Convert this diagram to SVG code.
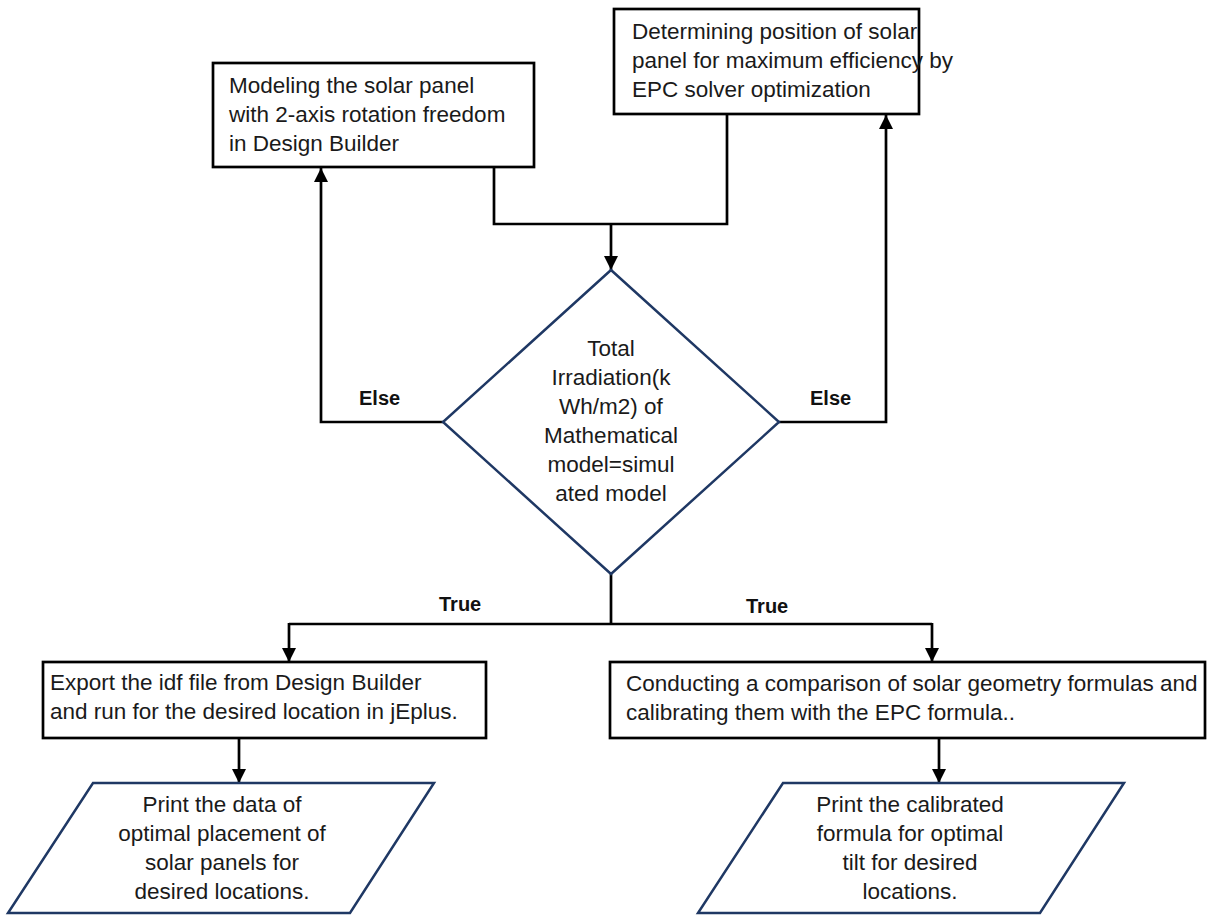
<svg xmlns="http://www.w3.org/2000/svg" width="1207" height="916" viewBox="0 0 1207 916">
<style>
.box{fill:#fff;stroke:#000;stroke-width:2.7}
.shape{fill:#fff;stroke:#1f3864;stroke-width:2.5}
.t{font-family:"Liberation Sans",Arial,sans-serif;font-size:22.5px;fill:#1a1a1a}
.c{text-anchor:middle}
.lbl{font-family:"Liberation Sans",Arial,sans-serif;font-size:20px;font-weight:bold;fill:#111}
.ln{fill:none;stroke:#000;stroke-width:2.7}
</style>
<defs>
<marker id="ah" markerUnits="userSpaceOnUse" markerWidth="14" markerHeight="14" viewBox="0 0 12 12" refX="12" refY="6" orient="auto">
<path d="M0,0 L12,6 L0,12 z" fill="#000"/>
</marker>
</defs>
<rect width="1207" height="916" fill="#fff"/>
<g id="connectors">
<polyline class="ln" points="494,167 494,224 727,224 727,114"/>
<line class="ln" x1="611" y1="224" x2="611" y2="270" marker-end="url(#ah)"/>
<polyline class="ln" points="443,422 321,422 321,168" marker-end="url(#ah)"/>
<polyline class="ln" points="779,422 886,422 886,115" marker-end="url(#ah)"/>
<line class="ln" x1="611" y1="574" x2="611" y2="624"/>
<polyline class="ln" points="289,624 932,624"/>
<line class="ln" x1="289" y1="623" x2="289" y2="662" marker-end="url(#ah)"/>
<line class="ln" x1="932" y1="623" x2="932" y2="662" marker-end="url(#ah)"/>
<line class="ln" x1="239" y1="738" x2="239" y2="783" marker-end="url(#ah)"/>
<line class="ln" x1="939" y1="738" x2="939" y2="783" marker-end="url(#ah)"/>
<text class="lbl" x="359" y="405">Else</text>
<text class="lbl" x="810" y="405">Else</text>
<text class="lbl" x="439" y="611">True</text>
<text class="lbl" x="746" y="613">True</text>
</g>
<g id="model">
<rect class="box" x="213" y="63" width="321" height="104"/>
<text class="t" x="229" y="93">Modeling the solar panel</text>
<text class="t" x="229" y="122">with 2-axis rotation freedom</text>
<text class="t" x="229" y="150.5">in Design Builder</text>
</g>
<g id="determine">
<rect class="box" x="614" y="9" width="305" height="105"/>
<text class="t" x="632" y="38.5">Determining position of solar</text>
<text class="t" x="632" y="67.5">panel for maximum efficiency by</text>
<text class="t" x="632" y="96.5">EPC solver optimization</text>
</g>
<g id="decision">
<polygon class="shape" points="611,270 779,422 611,574 443,422"/>
<text class="t c" x="611" y="356">Total</text>
<text class="t c" x="611" y="385">Irradiation(k</text>
<text class="t c" x="611" y="414">Wh/m2) of</text>
<text class="t c" x="611" y="443">Mathematical</text>
<text class="t c" x="611" y="472">model=simul</text>
<text class="t c" x="611" y="501">ated model</text>
</g>
<g id="export">
<rect class="box" x="43" y="662" width="443" height="76"/>
<text class="t" x="50" y="690">Export the idf file from Design Builder</text>
<text class="t" x="50" y="718.5">and run for the desired location in jEplus.</text>
</g>
<g id="compare">
<rect class="box" x="610" y="662" width="595" height="76"/>
<text class="t" x="626" y="691">Conducting a comparison of solar geometry formulas and</text>
<text class="t" x="626" y="719.5">calibrating them with the EPC formula..</text>
</g>
<g id="print-data">
<polygon class="shape" points="93,783 434,783 350,913 8,913"/>
<text class="t c" x="222" y="811.5">Print the data of</text>
<text class="t c" x="222" y="840.5">optimal placement of</text>
<text class="t c" x="222" y="869.5">solar panels for</text>
<text class="t c" x="222" y="898.5">desired locations.</text>
</g>
<g id="print-formula">
<polygon class="shape" points="783,783 1124,783 1040,913 698,913"/>
<text class="t c" x="910" y="811.5">Print the calibrated</text>
<text class="t c" x="910" y="840.5">formula for optimal</text>
<text class="t c" x="910" y="869.5">tilt for desired</text>
<text class="t c" x="910" y="898.5">locations.</text>
</g>
</svg>
